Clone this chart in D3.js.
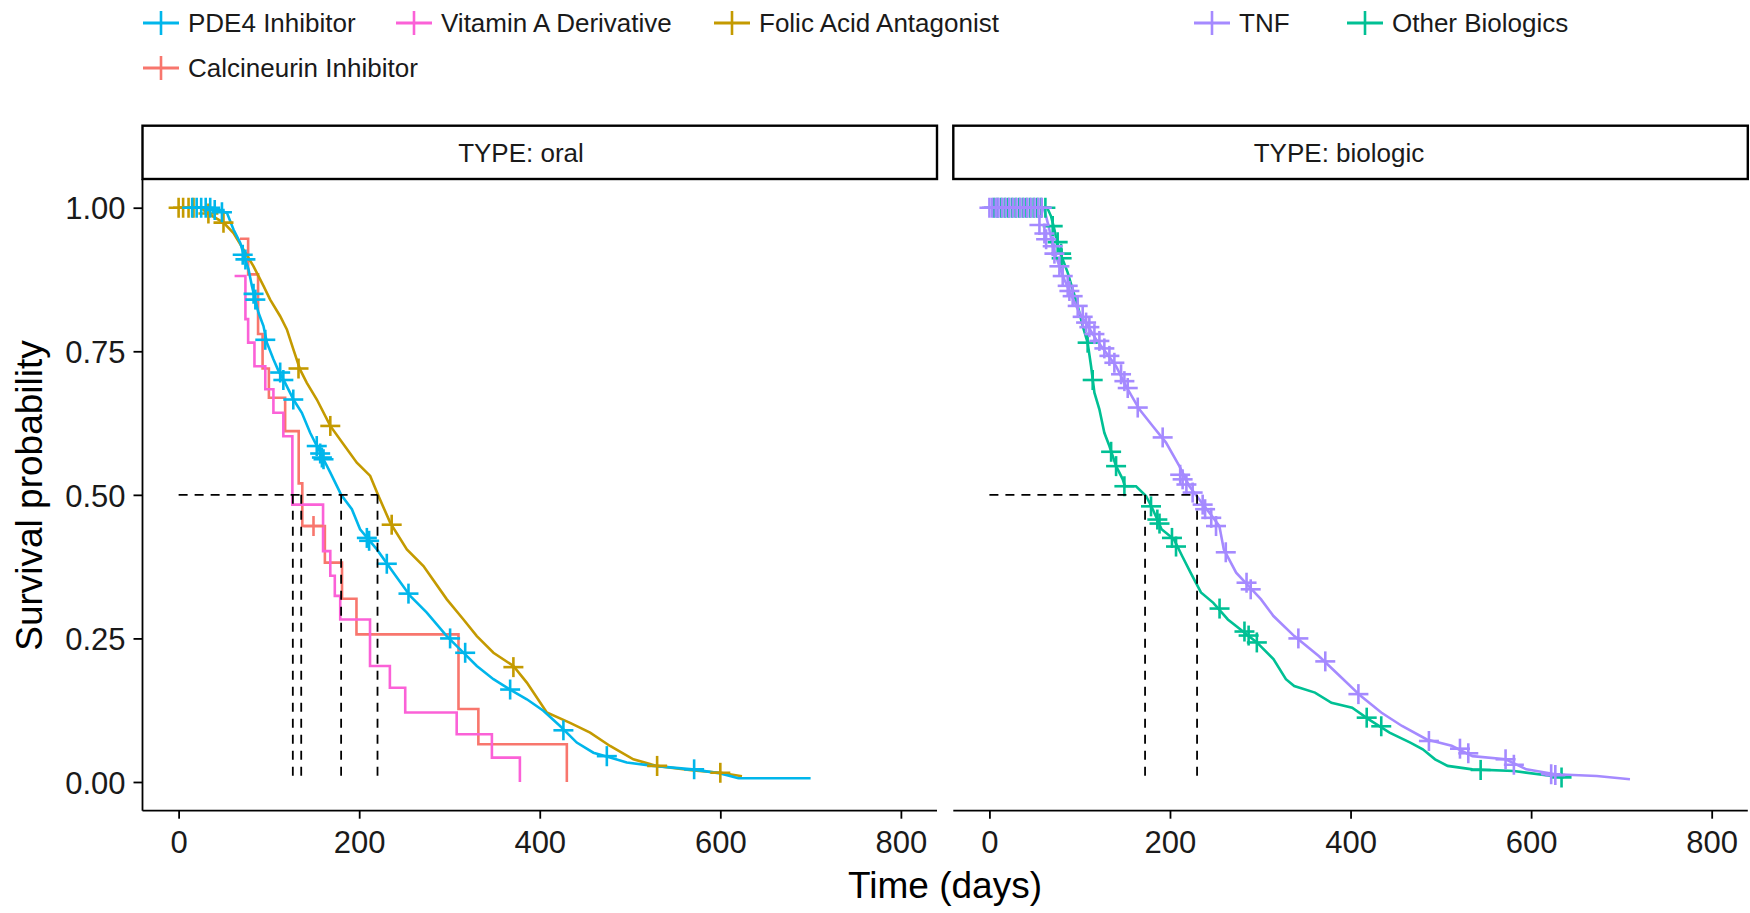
<!DOCTYPE html>
<html><head><meta charset="utf-8">
<script src="https://cdn.jsdelivr.net/npm/d3@7"></script>
<style>body{margin:0;background:#fff}svg{display:block}text{font-family:"Liberation Sans",Arial,sans-serif}</style>
</head><body>
<svg id="c" width="1750" height="913"></svg>
<script>
// ---------------- DATA ----------------
const categories = ["PDE4 Inhibitor","Vitamin A Derivative","Folic Acid Antagonist","TNF","Other Biologics","Calcineurin Inhibitor"];
const categoryColors = ["#00B6EB","#FB61D7","#C49A00","#A58AFF","#00C094","#F8766D"];
const panelLabels = ["TYPE: oral","TYPE: biologic"];
const xTickValues = [0,200,400,600,800];
const yTickValues = [0,0.25,0.5,0.75,1];
const yTickLabels = ["0.00","0.25","0.50","0.75","1.00"];
const xTitle = "Time (days)";
const yTitle = "Survival probability";

// oral panel curves [time, survival]
const pde4Curve = [[0,1],[31,1],[45,0.995],[53.5,0.991],[60.8,0.962],[68.2,0.939],[73.7,0.91],[77.4,0.893],[81.1,0.864],[84.8,0.84],[88.5,0.817],[94,0.794],[97.8,0.765],[105,0.736],[110.6,0.716],[118,0.695],[127.2,0.666],[136.5,0.643],[145.7,0.608],[153.1,0.585],[160.5,0.562],[167.9,0.539],[177,0.51],[180,0.5],[191.9,0.475],[201,0.44],[219.6,0.405],[238,0.3645],[256.5,0.324],[274.9,0.295],[297,0.254],[311.8,0.231],[330.3,0.202],[348.7,0.179],[367.2,0.161],[385.7,0.144],[404,0.124],[422.5,0.0975],[441,0.0686],[459.4,0.051],[477.9,0.0425],[496.4,0.034],[525.9,0.028],[569,0.022],[600,0.015],[620,0.0064],[700,0.0064]];
const pde4Censor = [[15,1],[20,1],[25,1],[30,1],[35,1],[40,0.996],[48,0.992],[71,0.918],[74,0.91],[83,0.85],[85,0.84],[96,0.77],[112.5,0.713],[116,0.70],[127,0.666],[153,0.585],[156.8,0.572],[158.7,0.565],[160.5,0.562],[208.5,0.425],[211,0.42],[230.6,0.38],[254.6,0.328],[300.7,0.25],[317.4,0.225],[367.2,0.161],[426.2,0.09],[474.3,0.045],[571,0.022]];

const vitaCurve = [[62,0.881],[74,0.806],[77,0.765],[84,0.724],[96,0.684],[105,0.643],[116,0.602],[126,0.483],[160,0.402],[168,0.359],[173,0.324],[179,0.283],[212,0.202],[234,0.164],[251,0.121],[308,0.083],[347,0.0425],[378,0]];
const vitaCensor = [];

const folicCurve = [[0,1],[25,1],[31.3,0.991],[49.7,0.974],[60.8,0.956],[71.9,0.927],[83,0.898],[88.5,0.881],[94,0.864],[101.4,0.84],[112.5,0.811],[119.9,0.788],[127.2,0.753],[134.6,0.718],[142,0.695],[153.1,0.666],[168,0.62],[182.6,0.588],[197.4,0.556],[212.2,0.533],[221.4,0.498],[234.3,0.4516],[252.8,0.405],[271.2,0.376],[297.1,0.318],[315.5,0.283],[330.3,0.254],[348.7,0.225],[370.8,0.202],[385.7,0.173],[407.8,0.121],[433.6,0.103],[455.8,0.086],[477.9,0.0627],[503.7,0.0395],[529.6,0.028],[570,0.02],[600,0.016],[624,0.01]];
const folicCensor = [[0,1],[5,1],[11,1],[16.5,1],[33,0.99],[49.7,0.974],[132.8,0.72],[168,0.62],[236,0.448],[370.8,0.2],[530,0.028],[600,0.016]];

const calcCurve = [[68,0.946],[77,0.884],[88,0.78],[93,0.72],[100,0.669],[118,0.611],[133,0.52],[137,0.4457],[162,0.382],[181,0.319],[197,0.257],[310,0.127],[332,0.0656],[430,0]];
const calcCensor = [[149.4,0.4457]];

// biologic panel curves
const tnfCurve = [[0,1],[60,1],[62.8,0.985],[66.4,0.962],[70.1,0.933],[77.5,0.898],[83,0.875],[90.4,0.849],[99.7,0.817],[108.9,0.794],[118.1,0.771],[129.2,0.748],[140.3,0.724],[151.4,0.689],[166.1,0.649],[180.8,0.62],[195.6,0.591],[210.4,0.55],[221.5,0.515],[232.5,0.492],[243.6,0.469],[254.7,0.4457],[259.6,0.405],[273.3,0.3645],[287.2,0.341],[300.9,0.318],[314.6,0.289],[337.7,0.254],[365.1,0.219],[388.1,0.1845],[411.1,0.15],[434,0.121],[457,0.0975],[484.5,0.074],[512,0.063],[535,0.045],[571.7,0.0395],[594.7,0.022],[626.8,0.0134],[672.7,0.0104],[709.5,0.0047]];
const tnfCensor = [[0,1],[3,1],[7,1],[10,1],[14,1],[18,1],[22,1],[26,1],[30,1],[34,1],[38,1],[42,1],[46,1],[50,1],[54,1],[58,1],[55.4,0.97],[60.9,0.955],[62.8,0.945],[70.1,0.933],[72,0.92],[77.5,0.898],[81.2,0.881],[86.7,0.864],[88.6,0.855],[92.2,0.846],[97.8,0.829],[103.3,0.81],[107.1,0.8],[110.7,0.792],[116.3,0.78],[121.8,0.768],[127.3,0.755],[132.9,0.742],[138.4,0.73],[145.8,0.71],[149.5,0.698],[153.2,0.686],[164.3,0.652],[191.9,0.6],[211.3,0.535],[214,0.527],[218.2,0.518],[225.1,0.504],[236.2,0.483],[238.9,0.475],[245.7,0.46],[251,0.4457],[261.8,0.4],[284.8,0.347],[289.4,0.3355],[342.2,0.25],[372,0.21],[408.7,0.153],[486.8,0.0714],[521.2,0.058],[530.4,0.05],[571.7,0.0395],[580.9,0.03],[622.2,0.0134],[626.8,0.012]];

const otherCurve = [[0,1],[64,1],[68.3,0.985],[72,0.962],[75.6,0.933],[81.2,0.91],[86.7,0.887],[92.2,0.858],[97.8,0.829],[103.3,0.794],[108.8,0.765],[112.6,0.724],[116.3,0.678],[121.8,0.649],[127.3,0.608],[132.9,0.585],[140.3,0.55],[147.7,0.527],[150,0.515],[162.4,0.515],[173.5,0.498],[180.9,0.475],[190.7,0.44],[204.4,0.4225],[213.6,0.393],[222.8,0.3645],[234.3,0.33],[248,0.312],[264.1,0.283],[277.8,0.266],[296.2,0.243],[314.6,0.214],[328.4,0.179],[337.6,0.167],[360.6,0.1556],[378.9,0.138],[401.8,0.1295],[420.2,0.109],[443.2,0.086],[466.2,0.0686],[480,0.057],[493.6,0.0395],[507.5,0.028],[535,0.022],[581,0.019],[636,0.0077]];
const otherCensor = [[5,1],[9,1],[13,1],[17,1],[21,1],[25,1],[29,1],[33,1],[37,1],[41,1],[45,1],[49,1],[53,1],[57,1],[62,1],[70.1,0.968],[75.6,0.94],[79.4,0.92],[80,0.912],[108.8,0.765],[114.4,0.7],[134.8,0.575],[140.3,0.55],[149.5,0.515],[179,0.48],[186,0.457],[188.4,0.45],[202.2,0.425],[206.7,0.41],[254.9,0.302],[282.5,0.262],[287.1,0.255],[296.2,0.243],[417.9,0.112],[434,0.097],[544.1,0.021],[633.7,0.008]];

const oralMedians = [126.5,135.8,180,220.3];
const biologicMedians = [172.4,230];

// -------------- CHART ----------------
const svg = d3.select("#c");
const font = '"Liberation Sans",Arial,sans-serif';
const colorOf = d3.scaleOrdinal().domain(categories).range(categoryColors);

const yScale = d3.scaleLinear().domain([-0.05,1.05]).range([810.7,179]);
const panelX = [[142.5,937],[953.3,1747.8]];
const stripTextX = [521,1339];
const xScales = panelX.map(r => d3.scaleLinear().domain([-40,840]).range(r));

const panels = [
  {label: panelLabels[0], series: [
    {name:"Calcineurin Inhibitor", curve: calcCurve, censor: calcCensor, step:true},
    {name:"Folic Acid Antagonist", curve: folicCurve, censor: folicCensor},
    {name:"PDE4 Inhibitor", curve: pde4Curve, censor: pde4Censor},
    {name:"Vitamin A Derivative", curve: vitaCurve, censor: vitaCensor, step:true}
  ], medians: oralMedians},
  {label: panelLabels[1], series: [
    {name:"Other Biologics", curve: otherCurve, censor: otherCensor},
    {name:"TNF", curve: tnfCurve, censor: tnfCensor}
  ], medians: biologicMedians}
];

panels.forEach((p, i) => {
  const x = xScales[i];
  const [x0, x1] = panelX[i];
  const g = svg.append("g");
  // strip
  g.append("rect").attr("x", x0).attr("y", 125.7).attr("width", x1 - x0).attr("height", 53.3)
    .attr("fill", "#fff").attr("stroke", "#000").attr("stroke-width", 2.4);
  g.append("text").attr("x", stripTextX[i]).attr("y", 161.5).attr("text-anchor", "middle")
    .attr("font-size", 26).attr("fill", "#1a1a1a").text(p.label);

  const clip = "clip" + i;
  svg.append("clipPath").attr("id", clip).append("rect").attr("x", x0).attr("y", 179).attr("width", x1 - x0).attr("height", 631.7);
  const plot = g.append("g").attr("clip-path", `url(#${clip})`);

  // curves
  p.series.forEach(s => {
    const line = d3.line().x(d => x(d[0])).y(d => yScale(d[1]))
      .curve(s.step ? d3.curveStepAfter : d3.curveLinear);
    plot.append("path").datum(s.curve).attr("d", line).attr("fill", "none")
      .attr("stroke", colorOf(s.name)).attr("stroke-width", 2.6).attr("stroke-linejoin", "miter");
  });
  // censor marks
  p.series.forEach(s => {
    const m = plot.append("g").attr("stroke", colorOf(s.name)).attr("stroke-width", 2.6);
    s.censor.forEach(d => {
      const cx = x(d[0]), cy = yScale(d[1]);
      m.append("line").attr("x1", cx - 10).attr("x2", cx + 10).attr("y1", cy).attr("y2", cy);
      m.append("line").attr("x1", cx).attr("x2", cx).attr("y1", cy - 10).attr("y2", cy + 10);
    });
  });
  // median lines
  const mx = d3.max(p.medians);
  const dash = plot.append("g").attr("stroke", "#000").attr("stroke-width", 1.8).attr("stroke-dasharray", "9,7").attr("fill", "none");
  dash.append("line").attr("x1", x(0)).attr("x2", x(mx)).attr("y1", yScale(0.5)).attr("y2", yScale(0.5));
  p.medians.forEach(m => {
    dash.append("line").attr("x1", x(m)).attr("x2", x(m)).attr("y1", yScale(0.5)).attr("y2", yScale(0));
  });

  // x axis
  const ax = g.append("g").attr("transform", `translate(0,810.7)`)
    .call(d3.axisBottom(x).tickValues(xTickValues).tickSize(8).tickSizeOuter(0).tickFormat(d3.format("d")));
  ax.select(".domain").attr("stroke", "#000").attr("stroke-width", 1.8).attr("d", `M${x0},0H${x1}`);
  ax.selectAll(".tick line").attr("stroke", "#000").attr("stroke-width", 1.8);
  ax.selectAll(".tick text").attr("y", 42).attr("dy", 0).attr("font-size", 31).attr("font-family", font).attr("fill", "#1a1a1a");

  if (i === 0) {
    const ay = g.append("g").attr("transform", `translate(${x0},0)`)
      .call(d3.axisLeft(yScale).tickValues(yTickValues).tickSize(9).tickSizeOuter(0)
        .tickFormat((d, k) => yTickLabels[k]));
    ay.select(".domain").attr("stroke", "#000").attr("stroke-width", 1.8).attr("d", `M0,179V810.7`);
    ay.selectAll(".tick line").attr("stroke", "#000").attr("stroke-width", 1.8);
    ay.selectAll(".tick text").attr("x", -17).attr("dy", "0.36em").attr("font-size", 31).attr("font-family", font).attr("fill", "#1a1a1a");
  }
});

// axis titles
svg.append("text").attr("x", 945).attr("y", 898).attr("text-anchor", "middle").attr("font-size", 37).attr("fill", "#000").text(xTitle);
svg.append("text").attr("transform", "translate(42,495.5) rotate(-90)").attr("text-anchor", "middle").attr("font-size", 37).attr("fill", "#000").text(yTitle);

// legend
const legendPos = [[143,23],[396,23],[714,23],[1194,23],[1347,23],[143,68]];
categories.forEach((c, k) => {
  const [lx, ly] = legendPos[k];
  const lg = svg.append("g").attr("transform", `translate(${lx},${ly})`);
  lg.append("line").attr("x1", 0).attr("x2", 36).attr("y1", 0).attr("y2", 0).attr("stroke", colorOf(c)).attr("stroke-width", 3);
  lg.append("line").attr("x1", 18).attr("x2", 18).attr("y1", -12).attr("y2", 12).attr("stroke", colorOf(c)).attr("stroke-width", 2.6);
  lg.append("text").attr("x", 45).attr("y", 9.3).attr("font-size", 26).attr("fill", "#1a1a1a").text(c);
});
</script>
</body></html>
